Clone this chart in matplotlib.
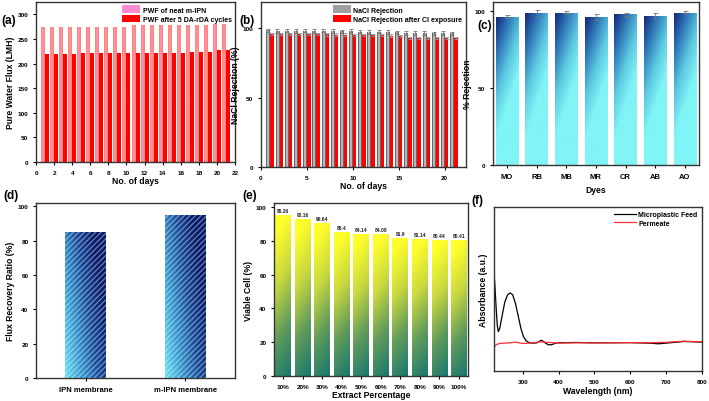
import numpy as np
import matplotlib
matplotlib.use("Agg")
import matplotlib.pyplot as plt
from matplotlib.colors import LinearSegmentedColormap

plt.rcParams['font.family'] = ['Liberation Sans', 'DejaVu Sans']
plt.rcParams['font.weight'] = 'bold'
plt.rcParams['axes.labelweight'] = 'bold'
plt.rcParams['axes.linewidth'] = 1.0
plt.rcParams['axes.edgecolor'] = '#333333'
plt.rcParams['xtick.labelsize'] = 4.6
plt.rcParams['ytick.labelsize'] = 4.6
plt.rcParams['xtick.major.size'] = 2
plt.rcParams['ytick.major.size'] = 2
plt.rcParams['xtick.major.width'] = 0.8
plt.rcParams['ytick.major.width'] = 0.8
plt.rcParams['axes.labelsize'] = 6.2
plt.rcParams['hatch.linewidth'] = 0.8

# ---- data ----
days = np.arange(1, 22)
pwf_neat = [275, 275, 275, 275, 275, 275, 275, 275, 275, 275,
            278, 278, 278, 278, 278, 278, 278, 278, 278, 280, 280]
pwf_cycles = [220, 220, 220, 220, 222, 222, 222, 222, 222, 222,
              222, 222, 222, 222, 222, 222, 224, 224, 224, 227, 227]

nacl_rej = [98.5, 98.3, 98.3, 98.3, 98.3, 98.2, 98.2, 98.0, 98.0, 98.0,
            97.5, 97.5, 97.5, 97.3, 97.2, 96.8, 96.6, 96.6, 96.5, 96.5, 96.5]
nacl_rej_err = [1.2, 1.5, 1.2, 1.5, 1.2, 1.5, 1.0, 1.5, 1.0, 1.5,
                1.2, 1.5, 1.2, 1.5, 1.2, 1.5, 1.2, 1.5, 1.2, 1.5, 1.2]
nacl_cl = [95.8, 95.8, 95.8, 95.7, 95.7, 95.7, 95.6, 95.5, 95.5, 95.4,
           95.2, 95.0, 95.0, 94.8, 94.6, 92.8, 92.8, 92.8, 92.8, 92.8, 92.8]
nacl_cl_err = [0.8] * 21

dyes = ['MO', 'RB', 'MB', 'MR', 'CR', 'AB', 'AO']
dye_rej = [96.5, 99.0, 99.0, 96.0, 98.0, 97.0, 99.0]
dye_err = [1.0, 2.0, 1.0, 2.0, 1.0, 2.0, 1.0]

membranes = ['IPN membrane', 'm-IPN membrane']
frr = [85, 95]

extract = ['10%', '20%', '30%', '40%', '50%', '60%', '70%', '80%', '90%', '100%']
viable = [95.26, 93.16, 90.64, 85.4, 84.14, 84.08, 81.9, 81.14, 80.44, 80.41]

wl_feed = [220, 223, 226, 229, 232, 236, 242, 250, 258, 265, 272, 280, 288,
           295, 302, 310, 320, 330, 340, 347, 352, 358, 365, 372, 380, 390,
           400, 450, 500, 550, 600, 650, 680, 700, 750, 800]
abs_feed = [0.60, 0.50, 0.38, 0.28, 0.24, 0.26, 0.33, 0.42, 0.465, 0.476,
            0.465, 0.41, 0.33, 0.26, 0.21, 0.183, 0.171, 0.170, 0.172, 0.182,
            0.188, 0.180, 0.168, 0.160, 0.160, 0.168, 0.172, 0.174, 0.172,
            0.172, 0.173, 0.170, 0.166, 0.170, 0.180, 0.176]
wl_perm = [220, 226, 235, 250, 265, 280, 300, 320, 350, 400, 450, 500,
           550, 600, 650, 700, 750, 800]
abs_perm = [0.145, 0.160, 0.168, 0.170, 0.172, 0.176, 0.168, 0.170, 0.178,
            0.170, 0.172, 0.171, 0.172, 0.173, 0.172, 0.175, 0.182, 0.178]


def grad_fill(ax, bars, cmap, func):
    # paint a gradient image inside each bar, clipped to its rectangle
    n = 60
    xf, yf = np.meshgrid(np.linspace(0, 1, n), np.linspace(0, 1, n))
    arr = np.clip(func(xf, yf), 0, 1)
    for b in bars:
        x0, y0 = b.get_xy()
        w, h = b.get_width(), b.get_height()
        im = ax.imshow(arr, extent=[x0, x0 + w, y0, y0 + h], cmap=cmap,
                       vmin=0, vmax=1, origin='lower', aspect='auto',
                       interpolation='bilinear', zorder=2.5)
        im.set_clip_path(b)


def panel_label(txt, x, y):
    fig.text(x, y, txt, fontsize=8.5, fontweight='bold', ha='left', va='center')


fig = plt.figure(figsize=(7.09, 4.02), dpi=100)

# ---- (a) ----
ax = fig.add_axes([0.0508, 0.5945, 0.2807, 0.398])
pink_cmap = LinearSegmentedColormap.from_list('pk', ['#ff8a3a', '#ff8ae0'])
b1 = ax.bar(days - 0.22, pwf_neat, width=0.44, color='#ff8ad0', zorder=2,
            label='PWF of neat m-IPN')
b2 = ax.bar(days + 0.22, pwf_cycles, width=0.44, color='#ff0000', zorder=2,
            label='PWF after 5 DA-rDA cycles')
grad_fill(ax, b1, pink_cmap, lambda x, y: 1 - np.abs(2 * x - 1))
ax.set_xlim(0, 22)
ax.set_ylim(0, 325)
ax.set_xticks(np.arange(0, 23, 2))
ax.set_yticks(np.arange(0, 301, 50))
ax.set_xlabel('No. of days', labelpad=1)
ax.set_ylabel('Pure Water Flux (LMH)', labelpad=2)
ax.legend(loc='upper right', frameon=False, fontsize=5, handlelength=2.6,
          handleheight=1.3, borderaxespad=0.1, labelspacing=0.15,
          handletextpad=0.4)

# ---- (b) ----
ax = fig.add_axes([0.368, 0.582, 0.289, 0.4105])
grey_cmap = LinearSegmentedColormap.from_list('gr', ['#3c3c3c', '#e6e6e6'])
b1 = ax.bar(days - 0.2, nacl_rej, width=0.4, color='#a0a0a0', zorder=2,
            label='NaCl Rejection')
b2 = ax.bar(days + 0.2, nacl_cl, width=0.4, color='#ff0000', zorder=2,
            label='NaCl Rejection after Cl exposure')
grad_fill(ax, b1, grey_cmap, lambda x, y: 1 - np.abs(2 * x - 1))
ax.errorbar(days - 0.2, nacl_rej, yerr=nacl_rej_err, fmt='none', ecolor='#777777',
            elinewidth=0.6, capsize=1.5, capthick=0.6, zorder=3)
ax.errorbar(days + 0.2, nacl_cl, yerr=nacl_cl_err, fmt='none', ecolor='#999999',
            elinewidth=0.6, capsize=1.5, capthick=0.6, zorder=3)
ax.set_xlim(0, 22.3)
ax.set_ylim(0, 119)
ax.set_xticks([0, 5, 10, 15, 20])
ax.set_yticks([0, 50, 100])
ax.set_xlabel('No. of days', labelpad=1)
ax.set_ylabel('NaCl Rejection (%)', labelpad=2)
ax.legend(loc='upper right', frameon=False, fontsize=5, handlelength=2.6,
          handleheight=1.3, borderaxespad=0.1, labelspacing=0.15,
          handletextpad=0.4)

# ---- (c) ----
ax = fig.add_axes([0.695, 0.587, 0.291, 0.4055])
blue_cmap = LinearSegmentedColormap.from_list('bl', ['#14267a', '#2f78b8', '#5cc8e0', '#80f4f6'])
xc = np.arange(len(dyes))
bc = ax.bar(xc, dye_rej, width=0.76, color='#3fa0d0', zorder=2)
grad_fill(ax, bc, blue_cmap, lambda x, y: 0.55 * x + 1.2 * (1 - y))
ax.errorbar(xc, dye_rej, yerr=dye_err, fmt='none', ecolor='#777777',
            elinewidth=0.6, capsize=1.8, capthick=0.6, zorder=3)
ax.set_xlim(-0.48, 6.48)
ax.set_ylim(0, 106)
ax.set_xticks(xc)
ax.set_xticklabels(dyes, fontsize=5.5)
ax.set_yticks([0, 50, 100])
ax.set_xlabel('Dyes', labelpad=4)
ax.set_ylabel('% Rejection', labelpad=2)

# ---- (d) ----
ax = fig.add_axes([0.0508, 0.0572, 0.2807, 0.4353])
navy_cmap = LinearSegmentedColormap.from_list('nv', ['#6ee0f4', '#3a9ad0', '#1c4c9a', '#0a1a68'])
xd = np.arange(len(membranes))
bd = ax.bar(xd, frr, width=0.41, color='#3a9ad0', zorder=2)
grad_fill(ax, bd, navy_cmap, lambda x, y: 0.8 * x + 0.45 * y)
ax.bar(xd, frr, width=0.41, facecolor='none', edgecolor=(0.85, 0.97, 1.0, 0.5),
       hatch='//////', linewidth=0, zorder=3)
ax.set_xlim(-0.5, 1.5)
ax.set_ylim(0, 102)
ax.set_xticks(xd)
ax.set_xticklabels(membranes, fontsize=5.5)
ax.set_yticks(np.arange(0, 101, 20))
ax.set_ylabel('Flux Recovery Ratio (%)', labelpad=2)

# ---- (e) ----
ax = fig.add_axes([0.3865, 0.0622, 0.2735, 0.4303])
yel_cmap = LinearSegmentedColormap.from_list('yl', ['#18786f', '#5f9a5c', '#c8d840', '#ffff2a'])
xe = np.arange(len(extract))
be = ax.bar(xe, viable, width=0.8, color='#a0c050', zorder=2)
grad_fill(ax, be, yel_cmap, lambda x, y: 0.95 * y + 0.15 * (1 - x))
for xi, v in zip(xe, viable):
    ax.text(xi, v + 1.2, f'{v:g}', ha='center', va='bottom', fontsize=3.6,
            fontweight='bold', color='#222222')
ax.set_xlim(-0.46, 9.46)
ax.set_ylim(0, 102.4)
ax.set_xticks(xe)
ax.set_xticklabels(extract, fontsize=4.6)
ax.set_yticks(np.arange(0, 101, 20))
ax.set_xlabel('Extract Percentage', labelpad=1)
ax.set_ylabel('Viable Cell (%)', labelpad=2)

# ---- (f) ----
ax = fig.add_axes([0.6968, 0.0746, 0.2932, 0.408])
ax.plot(wl_feed, abs_feed, color='black', lw=0.9, label='Microplastic Feed')
ax.plot(wl_perm, abs_perm, color='#ff3030', lw=0.9, label='Permeate')
ax.set_xlim(220, 800)
ax.set_ylim(0, 1)
ax.set_xticks(np.arange(300, 801, 100))
ax.set_yticks([])
ax.set_xlabel('Wavelength (nm)', labelpad=2)
ax.set_ylabel('Absorbance (a.u.)', labelpad=4)
ax.legend(loc='upper right', frameon=False, fontsize=5, handlelength=3.2,
          borderaxespad=0.2, labelspacing=0.2, handletextpad=0.3)

panel_label('(a)', 0.002, 0.948)
panel_label('(b)', 0.338, 0.948)
panel_label('(c)', 0.674, 0.935)
panel_label('(d)', 0.005, 0.512)
panel_label('(e)', 0.342, 0.512)
panel_label('(f)', 0.665, 0.500)

fig.savefig('out.png', dpi=100)
